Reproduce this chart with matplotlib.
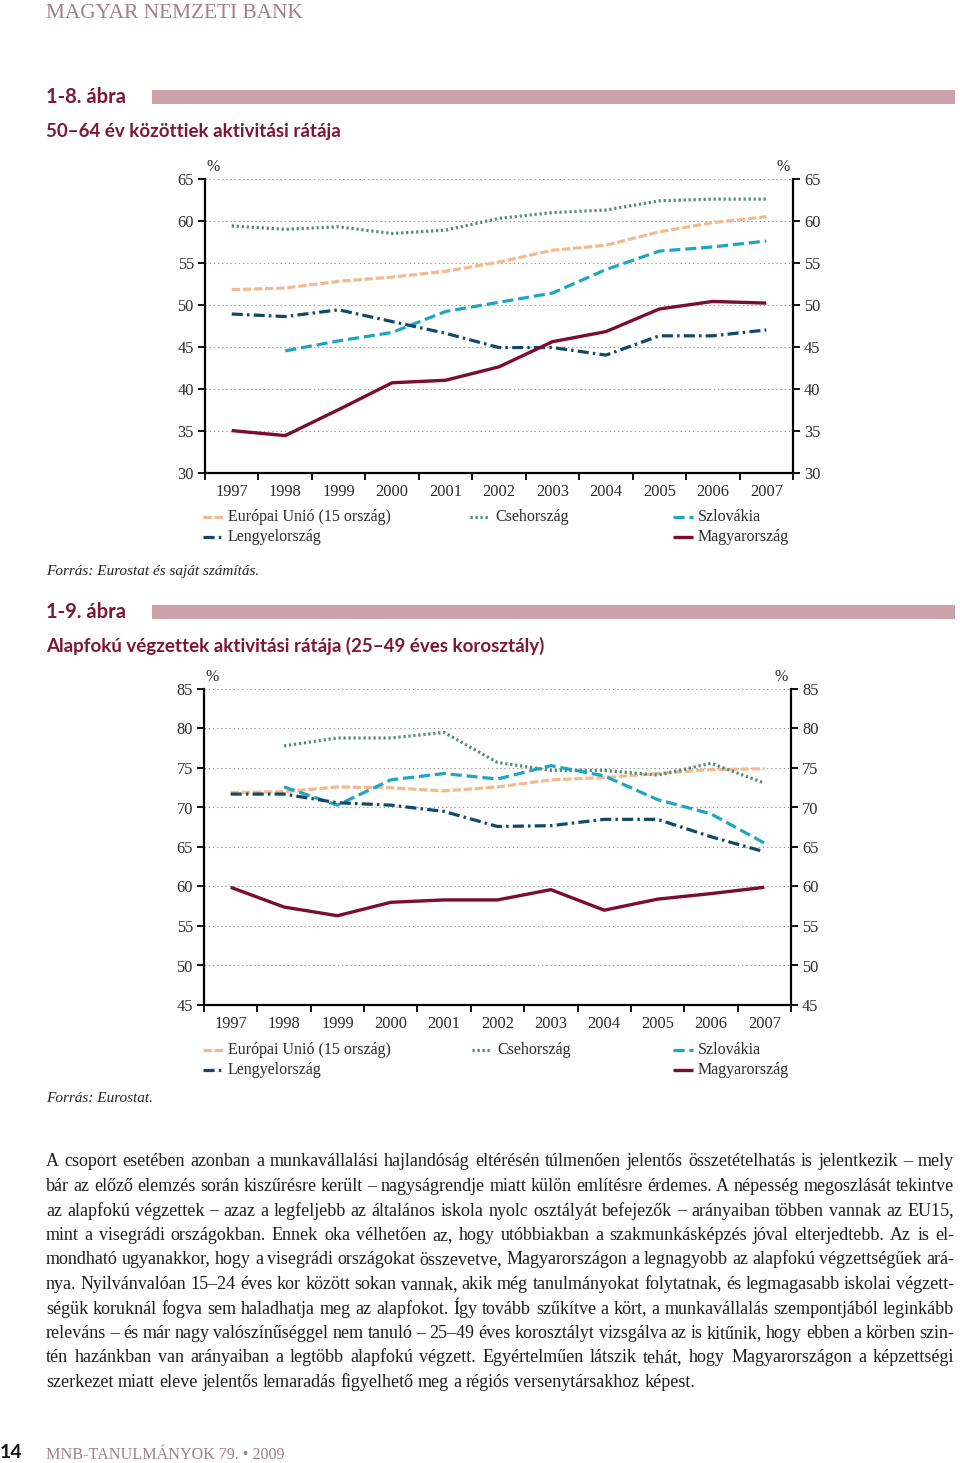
import matplotlib
matplotlib.use('Agg')
import matplotlib.pyplot as plt
from matplotlib.lines import Line2D
from matplotlib.patches import Rectangle
import numpy as np

plt.rcParams['lines.scale_dashes'] = False

# ---------------- data ----------------
years = ['1997', '1998', '1999', '2000', '2001', '2002', '2003', '2004', '2005', '2006', '2007']
series_names = ['Európai Unió (15 ország)', 'Csehország', 'Szlovákia', 'Lengyelország', 'Magyarország']
nan = float('nan')

# 1-8. ábra: 50-64 év közöttiek aktivitási rátája (%)
c1_eu15 = [51.8, 52.0, 52.8, 53.3, 54.0, 55.1, 56.5, 57.1, 58.7, 59.8, 60.5]
c1_czech = [59.4, 59.0, 59.3, 58.5, 58.9, 60.3, 61.0, 61.3, 62.4, 62.6, 62.6]
c1_slovakia = [nan, 44.5, 45.7, 46.7, 49.2, 50.3, 51.4, 54.2, 56.4, 56.9, 57.6]
c1_poland = [48.9, 48.6, 49.4, 48.0, 46.6, 44.9, 44.9, 44.0, 46.3, 46.3, 47.0]
c1_hungary = [35.0, 34.4, 37.5, 40.7, 41.0, 42.6, 45.6, 46.8, 49.5, 50.4, 50.2]
c1_yticks = [30, 35, 40, 45, 50, 55, 60, 65]

# 1-9. ábra: Alapfokú végzettek aktivitási rátája (25-49 éves) (%)
c2_eu15 = [71.9, 72.0, 72.6, 72.5, 72.1, 72.6, 73.5, 73.8, 74.3, 74.8, 74.9]
c2_czech = [nan, 77.8, 78.8, 78.8, 79.5, 75.7, 74.7, 74.7, 74.1, 75.6, 73.1]
c2_slovakia = [nan, 72.6, 70.3, 73.5, 74.3, 73.6, 75.3, 74.0, 71.0, 69.2, 65.5]
c2_poland = [71.7, 71.7, 70.6, 70.3, 69.5, 67.6, 67.7, 68.5, 68.5, 66.3, 64.4]
c2_hungary = [59.9, 57.4, 56.3, 58.0, 58.3, 58.3, 59.6, 57.0, 58.4, 59.1, 59.9]
c2_yticks = [45, 50, 55, 60, 65, 70, 75, 80, 85]

# ---------------- styles ----------------
W, H, DPI = 960, 1463, 100
MAROON = '#7E1734'
MAUVE = '#A0808A'
BAR = '#CDA2AB'
SERIF = ['Liberation Serif', 'DejaVu Serif']
SANS = ['Lato', 'DejaVu Sans']
TICKC = '#2b2b2b'

styles = [
    dict(color='#F4B98E', lw=2.3, ls=(0, (6, 2))),          # EU15
    dict(color='#4E8C7E', lw=2.3, ls=(0, (1.6, 2.0))),      # Czech
    dict(color='#1FA5C4', lw=2.3, ls=(0, (8, 3.5))),        # Slovakia
    dict(color='#0F4A6B', lw=2.3, ls=(0, (8, 3, 1.8, 3))),  # Poland
    dict(color='#7A0C35', lw=2.4, ls='-'),                  # Hungary
]

fig = plt.figure(figsize=(W / DPI, H / DPI), dpi=DPI)


def fx(x):
    return x / W


def fy(y):
    return 1 - y / H


def make_chart(left, right, top, bottom, yticks, data):
    ax = fig.add_axes([fx(left), fy(bottom), fx(right) - fx(left), fy(top) - fy(bottom)])
    x = np.arange(len(years))
    for vals, st in zip(data, styles):
        ax.plot(x, vals, color=st['color'], lw=st['lw'], linestyle=st['ls'],
                solid_capstyle='butt', dash_capstyle='butt', zorder=3)
    ax.set_xlim(-0.5, len(years) - 0.5)
    ax.set_ylim(yticks[0], yticks[-1])
    ax.set_yticks(yticks)
    ax.yaxis.set_ticks_position('both')
    ax.tick_params(axis='y', which='major', direction='out', length=5, width=1.3,
                   labelleft=True, labelright=True, labelsize=11.8, labelcolor=TICKC, pad=3)
    ax.set_xticks(x)
    ax.set_xticklabels(years)
    ax.tick_params(axis='x', which='major', length=0, pad=8, labelsize=11.8, labelcolor=TICKC)
    ax.set_xticks(np.arange(-0.5, len(years), 1.0), minor=True)
    ax.tick_params(axis='x', which='minor', direction='out', length=5, width=1.3)
    for lab in ax.get_xticklabels() + ax.get_yticklabels():
        lab.set_family(SERIF)
    for t in ax.yaxis.get_major_ticks():
        t.label2.set_family(SERIF)
    ax.spines['top'].set_visible(False)
    for s in ['left', 'right', 'bottom']:
        ax.spines[s].set_linewidth(1.6)
        ax.spines[s].set_color('black')
    ax.yaxis.grid(True, linestyle=(0, (1, 2)), color='#9a9a9a', lw=0.8)
    ax.set_axisbelow(True)
    ax.patch.set_alpha(0)
    ax.annotate('%', xy=(0, 1), xycoords='axes fraction', xytext=(1, 3),
                textcoords='offset points', ha='left', va='bottom',
                fontsize=11.5, family=SERIF, color=TICKC)
    ax.annotate('%', xy=(1, 1), xycoords='axes fraction', xytext=(-2, 3),
                textcoords='offset points', ha='right', va='bottom',
                fontsize=11.5, family=SERIF, color=TICKC)
    return ax


def legend(y1, y2, col_x):
    # rows: [EU15, Czech, Slovakia], [Poland, -, Hungary]
    layout = [(0, col_x[0], y1), (1, col_x[1], y1), (2, col_x[2], y1),
              (3, col_x[0], y2), (4, col_x[2], y2)]
    for idx, x0, y in layout:
        st = styles[idx]
        ln = Line2D([fx(x0), fx(x0 + 20)], [fy(y), fy(y)], transform=fig.transFigure,
                    color=st['color'], lw=st['lw'], linestyle=st['ls'],
                    dash_capstyle='butt', solid_capstyle='butt')
        fig.add_artist(ln)
        fig.text(fx(x0 + 25), fy(y), series_names[idx], ha='left', va='center',
                 fontsize=11.5, family=SERIF, color=TICKC)


def header(num_y, title_y, num_text, title_text):
    fig.text(fx(46), fy(num_y), num_text, ha='left', va='center', fontsize=14.5,
             fontweight='bold', family=SANS, color=MAROON)
    fig.patches.append(Rectangle((fx(152), fy(num_y + 7)), fx(955) - fx(152), 14 / H,
                                 transform=fig.transFigure, color=BAR, lw=0))
    fig.text(fx(46), fy(title_y), title_text, ha='left', va='center', fontsize=13.5,
             fontweight='bold', family=SANS, color=MAROON)


# page header
fig.text(fx(46), fy(14), 'MAGYAR NEMZETI BANK', ha='left', va='center', fontsize=15.4,
         family=SERIF, color=MAUVE)

# chart 1
header(97, 131, '1-8. ábra', '50–64 év közöttiek aktivitási rátája')
make_chart(205, 793, 179, 472.5, c1_yticks,
           [c1_eu15, c1_czech, c1_slovakia, c1_poland, c1_hungary])
legend(517, 537, [203, 470, 673])
fig.text(fx(46), fy(571), 'Forrás: Eurostat és saját számítás.', ha='left', va='center',
         fontsize=11, style='italic', family=SERIF, color='#222222')

# chart 2
header(612, 646, '1-9. ábra', 'Alapfokú végzettek aktivitási rátája (25–49 éves korosztály)')
make_chart(204, 791, 689, 1005, c2_yticks,
           [c2_eu15, c2_czech, c2_slovakia, c2_poland, c2_hungary])
legend(1050, 1070, [203, 472, 673])
fig.text(fx(46), fy(1098), 'Forrás: Eurostat.', ha='left', va='center',
         fontsize=11, style='italic', family=SERIF, color='#222222')

# body text (justified)
body_lines = [
    "A csoport esetében azonban a munkavállalási hajlandóság eltérésén túlmenően jelentős összetételhatás is jelentkezik – mely",
    "bár az előző elemzés során kiszűrésre került – nagyságrendje miatt külön említésre érdemes. A népesség megoszlását tekintve",
    "az alapfokú végzettek – azaz a legfeljebb az általános iskola nyolc osztályát befejezők – arányaiban többen vannak az EU15,",
    "mint a visegrádi országokban. Ennek oka vélhetően az, hogy utóbbiakban a szakmunkásképzés jóval elterjedtebb. Az is el-",
    "mondható ugyanakkor, hogy a visegrádi országokat összevetve, Magyarországon a legnagyobb az alapfokú végzettségűek ará-",
    "nya. Nyilvánvalóan 15–24 éves kor között sokan vannak, akik még tanulmányokat folytatnak, és legmagasabb iskolai végzett-",
    "ségük koruknál fogva sem haladhatja meg az alapfokot. Így tovább szűkítve a kört, a munkavállalás szempontjából leginkább",
    "releváns – és már nagy valószínűséggel nem tanuló – 25–49 éves korosztályt vizsgálva az is kitűnik, hogy ebben a körben szin-",
    "tén hazánkban van arányaiban a legtöbb alapfokú végzett. Egyértelműen látszik tehát, hogy Magyarországon a képzettségi",
    "szerkezet miatt eleve jelentős lemaradás figyelhető meg a régiós versenytársakhoz képest.",
]

renderer = fig.canvas.get_renderer()
X0, X1 = 46, 954
BASE0, LSTEP = 1166.5, 24.5


def word_widths(words, size):
    ws = []
    for w in words:
        t = fig.text(0, 0, w, fontsize=size, family=SERIF)
        ws.append(t.get_window_extent(renderer).width)
        t.remove()
    return ws


size = 13.5
while size > 9:
    ok = True
    for line in body_lines[:-1]:
        words = line.split(' ')
        ws = word_widths(words, size)
        if sum(ws) + (len(words) - 1) * size * 0.22 * DPI / 72 > (X1 - X0):
            ok = False
            break
    if ok:
        break
    size -= 0.25

space_nat = word_widths(['a a'], size)[0] - 2 * word_widths(['a'], size)[0]
for i, line in enumerate(body_lines):
    words = line.split(' ')
    ws = word_widths(words, size)
    y = BASE0 + i * LSTEP
    if i < len(body_lines) - 1:
        gap = (X1 - X0 - sum(ws)) / (len(words) - 1)
    else:
        gap = space_nat
    x = X0
    for w, wd in zip(words, ws):
        fig.text(fx(x), fy(y), w, ha='left', va='baseline', fontsize=size,
                 family=SERIF, color='#1e1e1e')
        x += wd + gap

# footer
fig.text(fx(0), fy(1453), '14', ha='left', va='center', fontsize=14, fontweight='bold',
         family=SANS, color='#111111')
fig.text(fx(46), fy(1455), 'MNB-TANULMÁNYOK 79. • 2009', ha='left', va='center',
         fontsize=11.6, family=SERIF, color=MAUVE)

fig.savefig('out.png', dpi=DPI)
